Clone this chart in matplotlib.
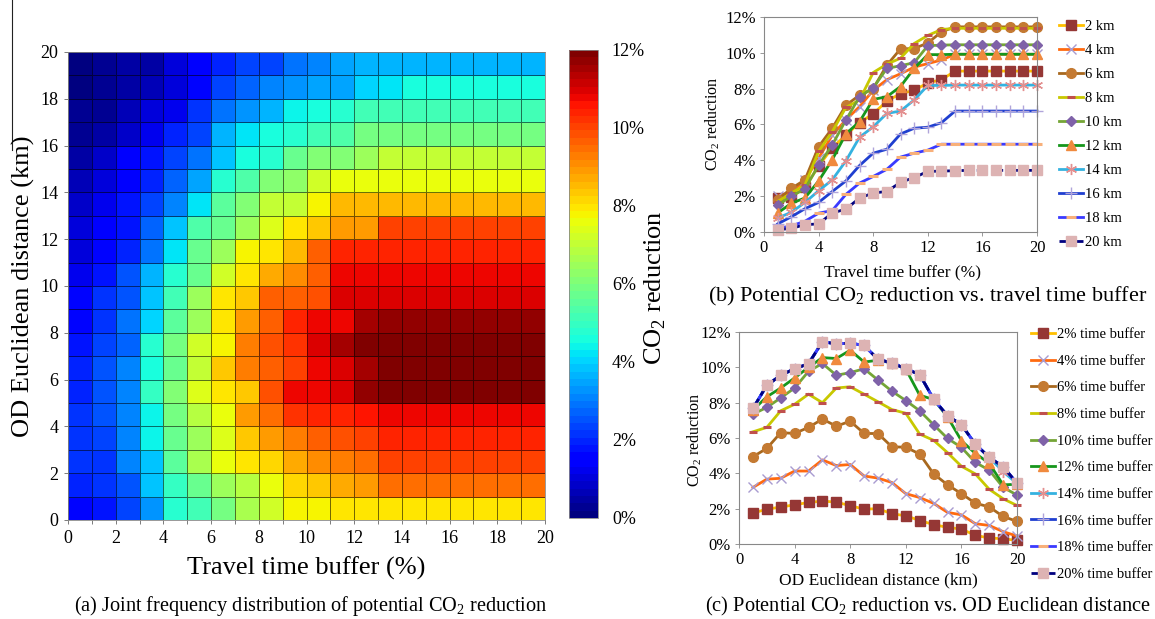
import numpy as np
import matplotlib
matplotlib.use("Agg")
import matplotlib.pyplot as plt
from matplotlib.lines import Line2D
from matplotlib.cm import ScalarMappable
from matplotlib.colors import Normalize

plt.rcParams['font.family'] = ['Liberation Serif', 'DejaVu Serif']
plt.rcParams['mathtext.fontset'] = 'custom'
plt.rcParams['mathtext.rm'] = 'Liberation Serif'

# ---------------- data ----------------
buffers = list(range(1, 21))     # travel time buffer (%)
distances = list(range(1, 21))   # OD Euclidean distance (km)

# CO2 reduction (%) ; one row per OD distance (1..20 km), columns = buffer 1..20 %
co2 = [
    [1.50, 1.75, 2.30, 3.20, 4.60, 4.94, 5.60, 6.35, 6.90, 7.35, 7.50, 7.58, 7.62, 7.67, 7.67, 7.67, 7.67, 7.67, 7.67, 7.67],  # 1 km
    [1.90, 1.97, 2.50, 3.67, 4.70, 5.41, 6.10, 6.60, 7.30, 7.73, 7.90, 8.33, 8.50, 8.98, 8.98, 8.98, 8.98, 8.98, 8.98, 8.98],  # 2 km
    [2.00, 2.09, 2.90, 3.72, 5.30, 6.30, 7.20, 7.54, 7.80, 8.27, 8.60, 8.83, 9.10, 9.55, 9.55, 9.55, 9.55, 9.55, 9.55, 9.55],  # 3 km
    [2.00, 2.22, 2.90, 4.13, 5.40, 6.26, 7.00, 7.91, 8.50, 8.83, 9.20, 9.40, 9.60, 9.92, 9.92, 9.92, 9.92, 9.92, 9.92, 9.92],  # 4 km
    [2.00, 2.35, 2.90, 4.13, 5.70, 6.60, 7.30, 8.48, 9.10, 9.77, 9.90, 10.0, 10.1, 10.2, 10.2, 10.2, 10.2, 10.2, 10.2, 10.2],  # 5 km
    [1.80, 2.43, 2.91, 4.76, 5.79, 7.07, 7.64, 8.00, 9.31, 10.22, 10.24, 10.55, 11.17, 11.45, 11.45, 11.45, 11.45, 11.45, 11.45, 11.45],  # 6 km
    [1.80, 2.37, 3.00, 4.44, 5.40, 6.67, 7.90, 8.83, 9.30, 9.55, 10.2, 10.5, 11.0, 11.33, 11.33, 11.33, 11.33, 11.33, 11.33, 11.33],  # 7 km
    [1.70, 2.17, 2.63, 4.50, 5.60, 6.95, 7.37, 8.90, 9.37, 9.70, 10.52, 10.97, 11.30, 11.37, 11.37, 11.37, 11.37, 11.37, 11.37, 11.37],  # 8 km
    [1.50, 1.97, 2.80, 3.85, 5.30, 6.26, 7.60, 8.48, 9.30, 9.92, 10.2, 10.3, 11.0, 11.24, 11.24, 11.24, 11.24, 11.24, 11.24, 11.24],  # 9 km
    [1.50, 2.00, 2.40, 3.73, 4.86, 6.25, 7.55, 8.05, 9.13, 9.28, 9.45, 10.40, 10.43, 10.45, 10.45, 10.45, 10.45, 10.45, 10.45, 10.45],  # 10 km
    [1.20, 1.71, 2.50, 3.48, 4.50, 5.50, 6.90, 7.61, 8.30, 8.65, 9.20, 10.25, 10.25, 10.25, 10.25, 10.25, 10.25, 10.25, 10.25, 10.25],  # 11 km
    [1.06, 1.60, 1.90, 2.85, 4.03, 5.48, 6.16, 7.40, 7.55, 8.12, 9.13, 9.90, 9.90, 9.92, 9.92, 9.92, 9.92, 9.92, 9.92, 9.92],  # 12 km
    [0.90, 1.33, 1.70, 2.63, 3.70, 5.09, 5.50, 6.22, 7.00, 7.54, 7.90, 8.42, 8.45, 9.59, 9.59, 9.59, 9.59, 9.59, 9.59, 9.59],  # 13 km
    [0.78, 1.10, 1.65, 2.30, 2.91, 3.97, 5.29, 5.87, 6.62, 6.75, 7.37, 8.18, 8.18, 8.20, 8.20, 8.20, 8.20, 8.20, 8.20, 8.20],  # 14 km
    [0.55, 0.94, 1.30, 1.79, 2.60, 3.35, 4.50, 5.17, 5.90, 5.98, 6.80, 7.20, 7.24, 7.26, 7.26, 7.26, 7.26, 7.26, 7.26, 7.26],  # 15 km
    [0.45, 0.85, 1.30, 1.65, 2.26, 2.85, 3.71, 4.40, 4.62, 5.47, 5.79, 5.85, 6.10, 6.75, 6.75, 6.75, 6.75, 6.75, 6.75, 6.75],  # 16 km
    [0.30, 0.49, 0.75, 1.15, 1.90, 2.31, 3.40, 3.97, 4.30, 4.62, 5.00, 5.13, 5.60, 5.66, 5.66, 5.66, 5.66, 5.66, 5.66, 5.66],  # 17 km
    [0.20, 0.34, 0.60, 1.05, 1.20, 2.10, 2.73, 3.10, 3.50, 4.18, 4.40, 4.57, 4.90, 4.90, 4.90, 4.90, 4.90, 4.90, 4.90, 4.90],  # 18 km
    [0.10, 0.30, 0.40, 0.70, 1.00, 1.56, 2.30, 2.56, 3.00, 3.21, 3.30, 3.35, 3.80, 4.10, 4.38, 4.38, 4.38, 4.38, 4.38, 4.38],  # 19 km
    [0.13, 0.20, 0.41, 0.45, 1.06, 1.28, 1.89, 2.18, 2.26, 2.77, 3.04, 3.38, 3.40, 3.42, 3.44, 3.44, 3.44, 3.44, 3.44, 3.44],  # 20 km
]

line_keys = [2, 4, 6, 8, 10, 12, 14, 16, 18, 20]
labels_b = ["2 km", "4 km", "6 km", "8 km", "10 km", "12 km", "14 km", "16 km", "18 km", "20 km"]
labels_c = ["2% time buffer", "4% time buffer", "6% time buffer", "8% time buffer", "10% time buffer",
            "12% time buffer", "14% time buffer", "16% time buffer", "18% time buffer", "20% time buffer"]
cbar_ticks = [0, 2, 4, 6, 8, 10, 12]

# styles: (line colour, linestyle, marker, marker face, marker edge, marker size, mew)
styles = [
    ('#FFC000', '-', 's', '#953735', '#953735', 7, 1),
    ('#FF6A10', '-', 'x', '#A99BD0', '#A99BD0', 7, 1.0),
    ('#A8681E', '-', 'o', '#C47A32', '#C47A32', 7, 1),
    ('#C8C800', '-', '_', '#C0504D', '#C0504D', 6, 2.2),
    ('#74A536', '-', 'D', '#7F62A8', '#7F62A8', 5.5, 1),
    ('#16961C', '-', '^', '#F08A3E', '#F08A3E', 7.5, 1),
    ('#35B2E0', '-', (6, 2, 0), '#E39090', '#E39090', 8, 1.0),
    ('#1F3FD0', '-', '+', '#B0A4DA', '#B0A4DA', 8, 1.0),
    ('#3A3AFF', '-', '_', '#F8B07A', '#F8B07A', 7, 2.2),
    ('#00007F', (0, (4, 1.5)), 's', '#DDB3B3', '#DDB3B3', 7.5, 1),
]

M = np.array(co2)

W, H = 1155, 619
fig = plt.figure(figsize=(W / 100, H / 100), dpi=100)


def px_axes(l, t, r, b):
    return fig.add_axes([l / W, 1 - b / H, (r - l) / W, (b - t) / H])


def ftext(x, y, s, **kw):
    fig.text(x / W, 1 - y / H, s, **kw)


# ---------------- (a) heatmap ----------------
ax = px_axes(68, 52, 545, 520)
cmap = plt.get_cmap('jet', 64)
edges = np.arange(0, 21)
# the original map stretches the colour scale to the data maximum
mesh = ax.pcolormesh(edges, edges, M, cmap=cmap, vmin=0, vmax=M.max(),
                     edgecolors=(0, 0, 0, 0.55), linewidth=0.7)
ax.set_xlim(0, 20)
ax.set_ylim(0, 20)
ax.set_xticks(range(0, 21, 2))
ax.set_yticks(range(0, 21, 2))
ax.set_xticks(range(0, 21), minor=True)
ax.tick_params(axis='both', which='major', labelsize=13, length=3, width=0.6, color='#666666', pad=4)
ax.tick_params(axis='both', which='minor', length=3, width=0.6, color='#666666')
for s in ax.spines.values():
    s.set_color('#888888')
    s.set_linewidth(0.6)

ftext(23, 286, 'OD Euclidean distance (km)', rotation=90, ha='center', va='center', fontsize=19)
ftext(306, 568, 'Travel time buffer (%)', ha='center', va='center', fontsize=19)
ftext(311, 606, '(a) Joint frequency distribution of potential CO$_\\mathrm{2}$ reduction',
      ha='center', va='center', fontsize=14.6)

cax = px_axes(569, 50, 598, 518)
sm = ScalarMappable(norm=Normalize(0, 12), cmap=cmap)
cb = fig.colorbar(sm, cax=cax, ticks=cbar_ticks)
cb.set_ticklabels(['%d%%' % v for v in cbar_ticks])
cb.outline.set_edgecolor('#888888')
cb.outline.set_linewidth(0.6)
cax.tick_params(labelsize=13, length=0, pad=10)
ftext(655, 288, 'CO$_\\mathrm{2}$ reduction', rotation=90, ha='center', va='center', fontsize=19)

# left margin page line
fig.add_artist(Line2D([12 / W, 12 / W], [1.0, 1 - 150 / H], color='#222222', lw=0.8))


def style_small(a):
    a.set_ylim(0, 12)
    a.set_xlim(0, 20)
    a.set_xticks(range(0, 21, 4))
    a.set_yticks(range(0, 13, 2))
    a.set_yticklabels(['%d%%' % v for v in range(0, 13, 2)])
    a.tick_params(labelsize=12, length=3, width=0.6, color='#888888', pad=3)
    for s in a.spines.values():
        s.set_color('#888888')
        s.set_linewidth(0.8)


def draw_series(a, xs, series_list, labels, legend_x, legend_y, spacing):
    handles = []
    for ys, st, lab in zip(series_list, styles, labels):
        lc, ls, mk, mfc, mec, ms, mew = st
        h, = a.plot(xs, ys, color=lc, linestyle=ls, lw=2, marker=mk, mfc=mfc, mec=mec,
                    ms=ms, mew=mew, label=lab, clip_on=False)
        handles.append(h)
    a.legend(handles=handles, loc='upper left', bbox_to_anchor=(legend_x / W, 1 - legend_y / H),
             bbox_transform=fig.transFigure, frameon=False, fontsize=10.5,
             handlelength=1.65, handletextpad=0.15, labelspacing=spacing, borderpad=0,
             borderaxespad=0)


# ---------------- (b) vs travel time buffer ----------------
axb = px_axes(764, 17, 1037, 232)
style_small(axb)
rows_b = [M[d - 1, :] for d in line_keys]
draw_series(axb, buffers, rows_b, labels_b, 1059, 20, 0.74)
ftext(713, 124, 'CO$_\\mathrm{2}$ reduction', rotation=90, ha='center', va='center', fontsize=11.5)
ftext(902, 272, 'Travel time buffer (%)', ha='center', va='center', fontsize=12.5)
ftext(928, 296, '(b) Potential CO$_\\mathrm{2}$ reduction vs. travel time buffer',
      ha='center', va='center', fontsize=16)

# ---------------- (c) vs OD distance ----------------
axc = px_axes(739, 332, 1017, 544)
style_small(axc)
cols_c = [M[:, b - 1] for b in line_keys]
draw_series(axc, distances, cols_c, labels_c, 1031, 328, 0.92)
ftext(695, 440, 'CO$_\\mathrm{2}$ reduction', rotation=90, ha='center', va='center', fontsize=11.5)
ftext(878, 580, 'OD Euclidean distance (km)', ha='center', va='center', fontsize=12.5)
ftext(928, 606, '(c) Potential CO$_\\mathrm{2}$ reduction vs. OD Euclidean distance',
      ha='center', va='center', fontsize=14.7)

fig.savefig('out.png', dpi=100)
